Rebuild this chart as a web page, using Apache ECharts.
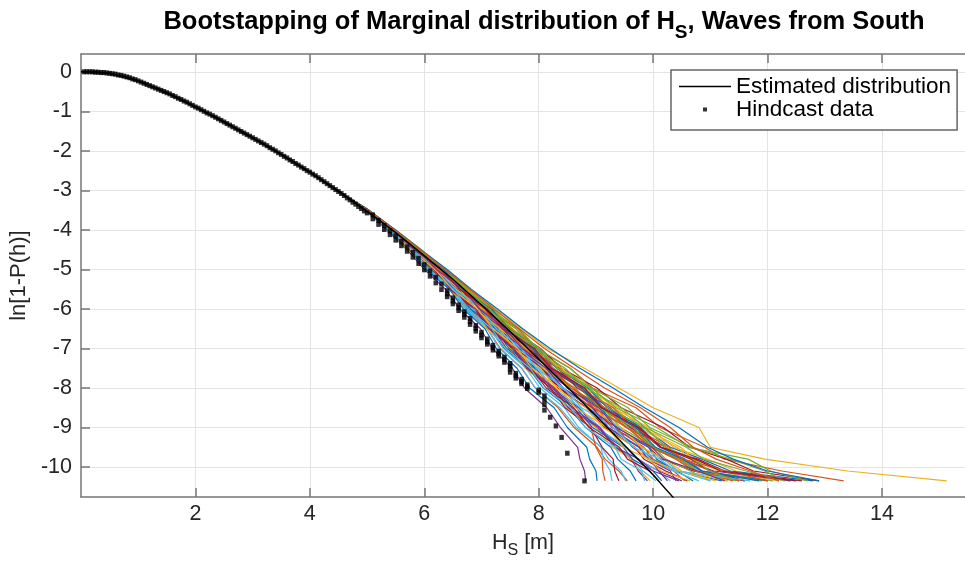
<!DOCTYPE html>
<html><head><meta charset="utf-8">
<script src="https://cdn.jsdelivr.net/npm/echarts@6/dist/echarts.min.js"></script>
<style>html,body{margin:0;padding:0;background:#fff;}#c{width:965px;height:564px;}</style>
</head><body><div id="c"></div>
<script>
// ---------- data ----------
const xTicks = [2, 4, 6, 8, 10, 12, 14];
const yTicks = [0, -1, -2, -3, -4, -5, -6, -7, -8, -9, -10];

// fitted (estimated) distribution
const fitCurve = [[0,0],[0.25,0],[0.5,-0.04],[0.75,-0.11],[1,-0.23],[1.5,-0.53],[2,-0.89],[2.5,-1.27],[3,-1.67],[3.5,-2.09],[4,-2.54],[4.5,-3.02],[5,-3.53],[5.5,-4.07],[6,-4.65],[6.5,-5.25],[7,-5.9],[7.5,-6.57],[8,-7.27],[8.5,-7.98],[9,-8.7],[9.5,-9.45],[10,-10.2],[10.4,-10.85]];

// hindcast empirical points
const hindcast = [
[0.05,0],[0.1,0],[0.15,0],[0.2,0],[0.25,-0.01],[0.3,-0.01],[0.35,-0.02],[0.4,-0.02],[0.45,-0.03],[0.5,-0.04],
[0.55,-0.05],[0.6,-0.06],[0.65,-0.08],[0.7,-0.09],[0.75,-0.11],[0.8,-0.13],[0.85,-0.15],[0.9,-0.18],[0.95,-0.2],[1,-0.23],
[1.05,-0.26],[1.1,-0.29],[1.15,-0.32],[1.2,-0.35],[1.25,-0.38],[1.3,-0.41],[1.35,-0.44],[1.4,-0.47],[1.45,-0.5],[1.5,-0.53],
[1.55,-0.56],[1.6,-0.6],[1.65,-0.63],[1.7,-0.67],[1.75,-0.7],[1.8,-0.74],[1.85,-0.77],[1.9,-0.81],[1.95,-0.85],[2,-0.89],
[2.05,-0.92],[2.1,-0.96],[2.15,-1],[2.2,-1.04],[2.25,-1.07],[2.3,-1.11],[2.35,-1.15],[2.4,-1.19],[2.45,-1.23],[2.5,-1.27],
[2.55,-1.31],[2.6,-1.35],[2.65,-1.39],[2.7,-1.43],[2.75,-1.47],[2.8,-1.51],[2.85,-1.55],[2.9,-1.59],[2.95,-1.63],[3,-1.67],
[3.05,-1.71],[3.1,-1.75],[3.15,-1.79],[3.2,-1.83],[3.25,-1.87],[3.3,-1.92],[3.35,-1.96],[3.4,-2],[3.45,-2.05],[3.5,-2.09],
[3.55,-2.14],[3.6,-2.18],[3.65,-2.23],[3.7,-2.27],[3.75,-2.32],[3.8,-2.36],[3.85,-2.41],[3.9,-2.45],[3.95,-2.5],[4,-2.54],
[4.05,-2.59],[4.1,-2.63],[4.15,-2.68],[4.2,-2.73],[4.25,-2.78],[4.3,-2.83],[4.35,-2.88],[4.4,-2.93],[4.45,-2.98],[4.5,-3.03],
[4.55,-3.08],[4.6,-3.13],[4.65,-3.19],[4.7,-3.24],[4.75,-3.3],[4.8,-3.35],[4.85,-3.41],[4.9,-3.46],[4.95,-3.52],[5,-3.57],
[5.1,-3.62],[5.1,-3.72],[5.2,-3.76],[5.2,-3.86],[5.3,-3.89],[5.3,-3.99],[5.4,-4.02],[5.4,-4.12],[5.5,-4.15],[5.5,-4.26],
[5.6,-4.29],[5.6,-4.4],[5.7,-4.43],[5.7,-4.54],[5.8,-4.57],[5.8,-4.69],[5.9,-4.72],[5.9,-4.85],[6,-4.88],[6,-5.01],
[6.1,-5.04],[6.1,-5.17],[6.2,-5.2],[6.2,-5.34],[6.3,-5.37],[6.3,-5.51],[6.4,-5.54],[6.4,-5.62],[6.4,-5.69],
[6.5,-5.72],[6.5,-5.8],[6.5,-5.87],[6.6,-5.9],[6.6,-5.97],[6.6,-6.04],[6.7,-6.07],[6.7,-6.14],[6.7,-6.21],
[6.8,-6.24],[6.8,-6.32],[6.8,-6.39],[6.9,-6.42],[6.9,-6.49],[6.9,-6.56],[7,-6.59],[7,-6.66],[7,-6.73],
[7.1,-6.76],[7.1,-6.83],[7.1,-6.89],[7.2,-6.92],[7.2,-6.98],[7.2,-7.04],[7.3,-7.07],[7.3,-7.13],[7.3,-7.19],
[7.4,-7.22],[7.4,-7.28],[7.4,-7.35],[7.5,-7.38],[7.5,-7.45],[7.5,-7.52],[7.5,-7.6],[7.6,-7.63],[7.6,-7.69],[7.6,-7.75],
[7.7,-7.78],[7.7,-7.84],[7.7,-7.89],[7.8,-7.92],[7.8,-7.97],[7.8,-8.01],[8,-8.05],[8,-8.11],
[8.1,-8.2],[8.1,-8.3],[8.1,-8.42],[8.1,-8.56],[8.2,-8.74],[8.3,-8.96],[8.4,-9.25],[8.5,-9.65],[8.8,-10.35]
];

// bootstrap curves: common head, then x-positions at shared levels
const bootHead = [[0,0],[0.5,-0.04],[1,-0.23],[1.5,-0.53],[2,-0.89],[2.5,-1.27],[3,-1.67],[3.5,-2.09],[4,-2.54],[4.5,-3.02]];
const bootLevels = [-3.5,-4,-4.5,-5,-5.5,-6,-6.5,-7,-7.5,-8,-8.5,-9,-9.5,-9.8,-10.1,-10.35];
const bootX = [
[5.00,5.43,5.86,6.20,6.62,6.96,7.36,7.66,8.08,8.42,8.90,9.20,9.75,9.98,10.45,11.20],
[4.97,5.37,5.76,6.07,6.46,6.73,7.10,7.33,7.70,7.94,8.34,8.62,9.02,9.16,9.40,9.55],
[5.03,5.49,5.90,6.37,6.72,7.22,7.54,8.03,8.38,8.94,9.30,9.92,10.36,10.95,11.45,12.40],
[4.98,5.34,5.70,6.00,6.37,6.62,6.98,7.19,7.54,7.75,8.14,8.38,8.68,8.72,8.80,8.82],
[5.01,5.45,5.84,6.30,6.64,7.12,7.42,7.92,8.22,8.76,9.08,9.62,9.98,10.40,10.72,11.90],
[5.02,5.47,5.86,6.30,6.64,7.04,7.34,7.72,8.00,8.40,8.70,9.08,9.38,9.65,9.82,10.05],
[4.99,5.40,5.82,6.13,6.57,6.86,7.30,7.57,8.06,8.36,8.95,9.28,9.92,10.15,10.70,11.60],
[5.00,5.44,5.83,6.29,6.60,7.08,7.38,7.88,8.20,8.80,9.14,9.82,10.30,10.85,11.35,12.80],
[5.02,5.46,5.92,6.28,6.78,7.10,7.63,7.95,8.55,8.94,9.70,10.12,10.90,11.25,12.25,13.33],
[5.02,5.50,5.95,6.38,6.80,7.25,7.70,8.15,8.80,9.40,10.00,10.80,11.00,11.95,13.40,15.13],
[4.98,5.40,5.81,6.12,6.56,6.84,7.26,7.52,7.95,8.22,8.70,9.00,9.52,9.72,10.10,10.50],
[5.01,5.44,5.82,6.27,6.58,7.04,7.33,7.80,8.10,8.64,8.96,9.58,9.94,10.46,10.85,12.10],
[5.00,5.41,5.83,6.14,6.57,6.85,7.28,7.54,7.98,8.26,8.73,9.01,9.53,9.74,10.09,10.30],
[5.03,5.48,5.88,6.36,6.70,7.18,7.48,7.96,8.25,8.80,9.10,9.70,10.12,10.78,11.25,12.60],
[4.99,5.38,5.78,6.08,6.50,6.76,7.16,7.40,7.82,8.08,8.53,8.82,9.26,9.38,9.60,9.70],
[5.00,5.43,5.81,6.26,6.58,7.05,7.36,7.85,8.18,8.72,9.05,9.62,10.00,10.45,10.76,11.50],
[5.02,5.47,5.93,6.27,6.75,7.06,7.54,7.82,8.34,8.70,9.32,9.72,10.42,10.66,11.15,12.20],
[4.98,5.40,5.77,6.22,6.54,7.00,7.29,7.75,8.04,8.53,8.86,9.36,9.64,9.94,10.10,10.25],
[5.01,5.45,5.89,6.23,6.70,7.00,7.47,7.76,8.26,8.57,9.12,9.43,10.02,10.22,10.65,11.00],
[4.97,5.36,5.75,6.04,6.45,6.70,7.10,7.31,7.71,7.94,8.37,8.66,9.10,9.22,9.44,9.52],
[5.02,5.46,5.85,6.32,6.66,7.16,7.50,8.03,8.40,9.02,9.44,10.18,10.64,11.28,11.75,12.90],
[5.00,5.44,5.87,6.21,6.68,6.98,7.45,7.74,8.23,8.56,9.08,9.38,9.92,10.06,10.42,10.70],
[4.99,5.41,5.78,6.23,6.55,7.01,7.31,7.78,8.08,8.61,8.95,9.54,9.96,10.40,10.72,11.40],
[5.01,5.45,5.89,6.24,6.73,7.04,7.53,7.86,8.41,8.77,9.40,9.80,10.48,10.70,11.22,11.80],
[4.98,5.38,5.74,6.16,6.45,6.89,7.15,7.58,7.83,8.28,8.58,9.07,9.34,9.62,9.74,9.90],
[5.03,5.49,5.95,6.31,6.81,7.14,7.65,7.98,8.55,8.92,9.56,9.94,10.68,11.35,11.95,12.30],
[5.00,5.43,5.80,6.25,6.56,7.02,7.31,7.77,8.06,8.56,8.88,9.42,9.78,10.18,10.44,11.00],
[4.99,5.40,5.82,6.14,6.59,6.88,7.33,7.60,8.05,8.34,8.84,9.16,9.68,9.84,10.22,10.60],
[5.02,5.47,5.86,6.33,6.67,7.16,7.48,7.98,8.31,8.86,9.20,9.78,10.12,10.56,10.86,12.00],
[5.01,5.45,5.88,6.22,6.68,6.98,7.45,7.73,8.21,8.50,9.01,9.30,9.84,10.00,10.36,10.55],
[4.98,5.37,5.72,6.13,6.42,6.83,7.08,7.50,7.76,8.21,8.49,9.00,9.29,9.63,9.77,9.95],
[5.00,5.44,5.88,6.22,6.70,7.01,7.50,7.81,8.34,8.67,9.25,9.60,10.22,10.50,11.06,12.40],
[5.02,5.46,5.84,6.30,6.63,7.11,7.42,7.90,8.20,8.74,9.06,9.65,10.02,10.48,10.78,11.30],
[4.99,5.41,5.83,6.15,6.60,6.90,7.36,7.64,8.11,8.40,8.92,9.22,9.78,9.95,10.35,10.80],
[5.01,5.44,5.82,6.27,6.59,7.06,7.36,7.85,8.17,8.74,9.10,9.73,10.14,10.66,11.00,11.60],
[4.98,5.39,5.80,6.11,6.54,6.81,7.24,7.48,7.92,8.17,8.66,8.94,9.48,9.64,10.00,10.15],
[5.02,5.46,5.91,6.25,6.73,7.04,7.53,7.84,8.36,8.71,9.30,9.66,10.28,10.50,11.00,11.50],
[5.00,5.42,5.79,6.24,6.56,7.02,7.32,7.79,8.08,8.58,8.89,9.44,9.80,10.20,10.50,11.30],
[4.99,5.40,5.83,6.16,6.61,6.91,7.37,7.66,8.13,8.43,8.94,9.22,9.76,9.91,10.30,10.40],
[5.01,5.45,5.84,6.31,6.65,7.14,7.46,7.97,8.33,8.92,9.35,10.06,10.62,11.66,12.05,12.70],
[4.98,5.37,5.76,6.07,6.48,6.74,7.14,7.38,7.78,8.02,8.45,8.70,9.09,9.13,9.25,9.28],
[5.00,5.40,5.75,6.17,6.46,6.88,7.13,7.55,7.79,8.21,8.46,8.91,9.11,9.30,9.33,9.40],
[4.98,5.36,5.74,6.03,6.44,6.68,7.06,7.26,7.62,7.84,8.27,8.50,8.84,8.89,9.00,9.02],
[5.00,5.41,5.76,6.19,6.48,6.92,7.18,7.60,7.84,8.27,8.52,8.91,9.00,9.11,9.12,9.16],
[5.01,5.44,5.87,6.18,6.62,6.88,7.33,7.56,8.03,8.30,8.82,9.12,9.68,9.90,10.45,11.10],
[4.99,5.41,5.77,6.20,6.48,6.90,7.16,7.57,7.80,8.26,8.52,9.04,9.34,9.75,10.00,10.45],
[5.02,5.47,5.93,6.28,6.77,7.09,7.60,7.91,8.46,8.82,9.45,9.86,10.58,10.88,11.62,12.30],
[5.00,5.43,5.80,6.24,6.54,6.99,7.26,7.69,7.96,8.44,8.75,9.30,9.66,10.12,10.40,11.70],
[4.98,5.39,5.80,6.10,6.52,6.78,7.19,7.44,7.87,8.13,8.61,8.88,9.41,9.55,9.94,10.10],
[5.01,5.45,5.84,6.30,6.62,7.09,7.40,7.89,8.21,8.76,9.10,9.70,10.04,10.52,10.84,11.85],
[5.02,5.46,5.90,6.23,6.69,6.98,7.45,7.73,8.24,8.56,9.16,9.52,10.22,10.52,11.28,12.00],
[4.99,5.40,5.76,6.19,6.49,6.93,7.20,7.63,7.88,8.36,8.64,9.20,9.48,9.92,10.14,10.65],
[5.00,5.44,5.88,6.21,6.67,6.96,7.42,7.70,8.21,8.50,9.05,9.35,9.98,10.18,10.78,11.25],
[5.03,5.48,5.89,6.37,6.71,7.20,7.51,8.02,8.32,8.89,9.22,9.86,10.22,10.72,10.98,11.45],
[4.98,5.38,5.79,6.09,6.51,6.77,7.18,7.42,7.85,8.09,8.56,8.82,9.34,9.44,9.80,9.85],
[5.01,5.45,5.83,6.29,6.62,7.10,7.41,7.92,8.22,8.80,9.10,9.75,10.14,10.74,11.18,12.50],
[5.03,5.50,5.94,6.40,6.82,7.28,7.72,8.20,8.72,9.30,9.85,10.45,10.95,11.40,12.00,12.90],
[5.02,5.48,5.93,6.36,6.80,7.22,7.66,8.10,8.62,9.15,9.78,10.30,10.70,11.10,11.70,12.20]
];
const lineColors = ['#0072BD','#D95319','#EDB120','#7E2F8E','#77AC30','#4DBEEE','#A2142F'];

// ---------- chart ----------
const FONT = 'Liberation Sans, Arial, Helvetica, sans-serif';
const AX = '#767676';
const chart = echarts.init(document.getElementById('c'), null, {renderer: 'canvas'});

const series = bootX.map((xs, i) => ({
  name: 'boot' + (i + 1),
  type: 'line',
  data: bootHead.concat(bootLevels.map((y, j) => [xs[j], y])),
  showSymbol: false, symbol: 'none', silent: true, animation: false,
  lineStyle: {color: lineColors[i % lineColors.length], width: 1.2},
  z: 2
}));
series.push({
  name: 'Estimated distribution', type: 'line', data: fitCurve,
  showSymbol: false, symbol: 'none', animation: false, silent: true,
  lineStyle: {color: '#000', width: 1.4}, itemStyle: {color: '#000'}, z: 3
});
series.push({
  name: 'Hindcast data', type: 'scatter', data: hindcast,
  symbol: 'rect', symbolSize: [4.5, 5], animation: false, silent: true,
  itemStyle: {color: '#000'}, z: 4
});

const axisLineStyle = {color: AX, width: 1.5};
chart.setOption({
  animation: false,
  backgroundColor: '#fff',
  textStyle: {fontFamily: FONT},
  grid: {left: 79, top: 54, right: 0, bottom: 58, containLabel: false},
  graphic: [{
    type: 'text', x: 544, y: 9, z: 10,
    style: {
      text: '{a|Bootstapping of Marginal distribution of H}{b|S}{a|, Waves from South}',
      align: 'center', verticalAlign: 'top',
      rich: {
        a: {fontFamily: FONT, fontSize: 25.5, fontWeight: 'bold', color: '#000', lineHeight: 30, verticalAlign: 'top'},
        b: {fontFamily: FONT, fontSize: 19, fontWeight: 'bold', color: '#000', lineHeight: 20, padding: [18, 0, 0, 0]}
      }
    }
  }],
  legend: {
    data: [
      {name: 'Estimated distribution', icon: 'path://M0,0H52V1.4H0Z'},
      {name: 'Hindcast data', icon: 'path://M0,0H4V4H0Z'}
    ],
    orient: 'vertical', left: 671, top: 70,
    itemWidth: 52, itemHeight: 4, itemGap: 0, symbolKeepAspect: true,
    padding: [5, 6, 9, 8],
    borderColor: '#666', borderWidth: 1.5, backgroundColor: '#fff',
    selectedMode: false,
    textStyle: {fontFamily: FONT, fontSize: 22.5, color: '#000', lineHeight: 18}
  },
  xAxis: [{
    type: 'value', min: 0, max: 15.45, position: 'bottom',
    axisLine: {show: true, onZero: false, lineStyle: axisLineStyle},
    axisTick: {show: true, inside: true, length: 9, customValues: xTicks, lineStyle: axisLineStyle},
    axisLabel: {customValues: xTicks, fontFamily: FONT, fontSize: 21.5, color: '#262626', margin: 6},
    splitLine: {show: true, lineStyle: {color: '#e4e4e4', width: 1}},
    name: '{a|H}{b|S}{a| [m]}', nameLocation: 'middle', nameGap: 25,
    nameTextStyle: {
      rich: {
        a: {fontFamily: FONT, fontSize: 21.5, color: '#262626', lineHeight: 24, verticalAlign: 'top'},
        b: {fontFamily: FONT, fontSize: 16, color: '#262626', lineHeight: 16, padding: [13, 0, 0, 0]}
      }
    }
  }, {
    type: 'value', min: 0, max: 15.45, position: 'top',
    axisLine: {show: true, onZero: false, lineStyle: axisLineStyle},
    axisTick: {show: true, inside: true, length: 9, customValues: xTicks, lineStyle: axisLineStyle},
    axisLabel: {show: false},
    splitLine: {show: false}
  }],
  yAxis: [{
    type: 'value', min: -10.76, max: 0.45,
    axisLine: {show: true, onZero: false, lineStyle: axisLineStyle},
    axisTick: {show: true, inside: true, length: 9, customValues: yTicks, lineStyle: axisLineStyle},
    axisLabel: {customValues: yTicks, fontFamily: FONT, fontSize: 21.5, color: '#262626', margin: 9},
    splitLine: {show: true, lineStyle: {color: '#e4e4e4', width: 1}},
    name: 'ln[1-P(h)]', nameLocation: 'middle', nameGap: 46,
    nameTextStyle: {fontFamily: FONT, fontSize: 22, color: '#262626'}
  }],
  series: series
});
</script></body></html>
